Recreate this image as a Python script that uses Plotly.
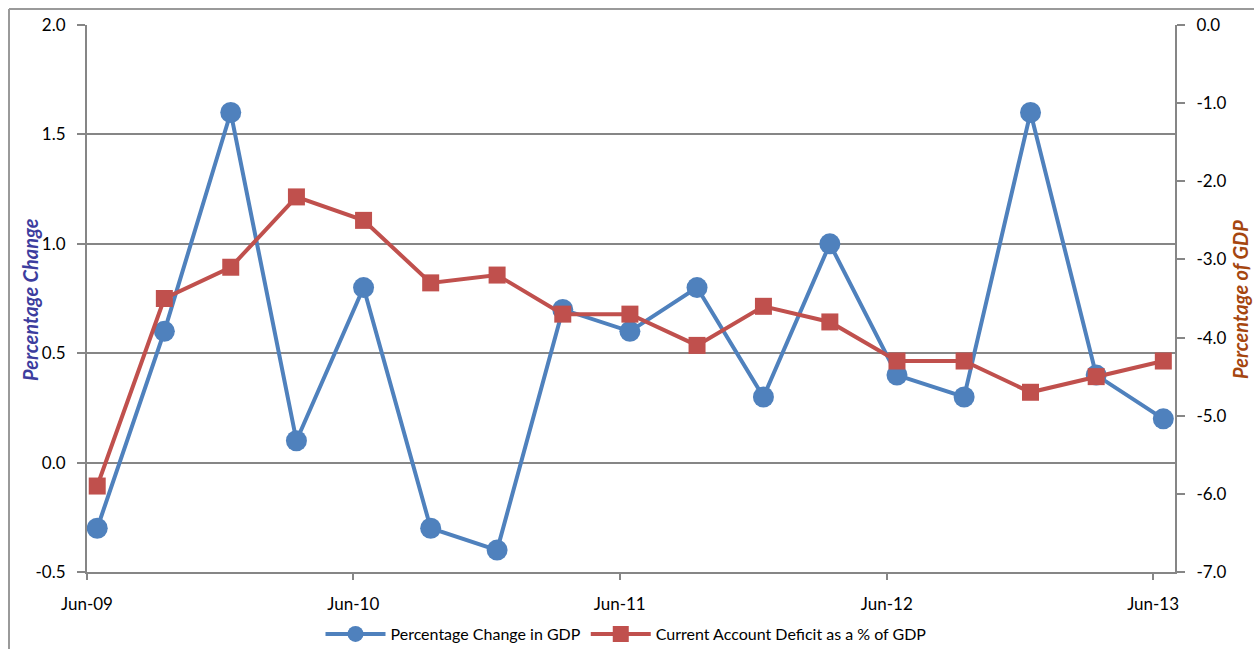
import plotly.graph_objects as go

dates = ["2009-06-15", "2009-09-15", "2009-12-15", "2010-03-15", "2010-06-15", "2010-09-15",
         "2010-12-15", "2011-03-15", "2011-06-15", "2011-09-15", "2011-12-15", "2012-03-15",
         "2012-06-15", "2012-09-15", "2012-12-15", "2013-03-15", "2013-06-15"]
gdp_change = [-0.3, 0.6, 1.6, 0.1, 0.8, -0.3, -0.4, 0.7, 0.6, 0.8, 0.3, 1.0, 0.4, 0.3, 1.6, 0.4, 0.2]
ca_deficit = [-5.9, -3.5, -3.1, -2.2, -2.5, -3.3, -3.2, -3.7, -3.7, -4.1, -3.6, -3.8, -4.3, -4.3, -4.7, -4.5, -4.3]

left_ticks = [-0.5, 0.0, 0.5, 1.0, 1.5, 2.0]
left_labels = ["-0.5", "0.0", "0.5", "1.0", "1.5", "2.0"]
right_ticks = [-7.0, -6.0, -5.0, -4.0, -3.0, -2.0, -1.0, 0.0]
right_labels = ["-7.0", "-6.0", "-5.0", "-4.0", "-3.0", "-2.0", "-1.0", "0.0"]

W, H = 1254, 649
L, R, T, B = 87, 1175, 25, 572
FONT = "Lato, Open Sans, sans-serif"
GRID = "#868686"

fig = go.Figure()
fig.add_trace(go.Scatter(
    x=dates, y=gdp_change, name="Percentage Change in GDP", mode="lines+markers",
    line=dict(color="#4f81bd", width=4),
    marker=dict(symbol="circle", size=21, color="#4f81bd"),
    yaxis="y"))
fig.add_trace(go.Scatter(
    x=dates, y=ca_deficit, name="Current Account Deficit as a % of GDP", mode="lines+markers",
    line=dict(color="#c0504d", width=4),
    marker=dict(symbol="square", size=17, color="#c0504d"),
    yaxis="y2"))

def px_x(p):
    return (p - L) / (R - L)

def px_y(p):
    return (B - p) / (B - T)

fig.update_layout(
    width=W, height=H,
    margin=dict(l=L, r=W - R, t=T, b=H - B, autoexpand=False),
    paper_bgcolor="white", plot_bgcolor="white",
    font=dict(family=FONT, size=15, color="#000000"),
    showlegend=True,
    legend=dict(orientation="h", x=px_x(626), y=px_y(634), xanchor="center", yanchor="middle",
                font=dict(size=16, family=FONT), traceorder="normal", itemwidth=60,
                bgcolor="rgba(0,0,0,0)"),
    xaxis=dict(
        type="date", range=["2009-06-01", "2013-07-01"],
        tick0="2009-06-01", dtick="M12", tickformat="%b-%y",
        showgrid=False, showline=True, linecolor=GRID, linewidth=2,
        ticks="outside", ticklen=6, tickcolor=GRID, tickwidth=2,
        tickfont=dict(size=17), zeroline=False, automargin=False, ticklabelstandoff=10),
    yaxis=dict(
        range=[-0.5, 2.0], tickvals=left_ticks, ticktext=left_labels,
        showgrid=True, gridcolor=GRID, gridwidth=1.5,
        showline=True, linecolor=GRID, linewidth=2,
        ticks="outside", ticklen=8, tickcolor=GRID, tickwidth=2,
        tickfont=dict(size=17), zeroline=False, automargin=False, ticklabelstandoff=8),
    yaxis2=dict(
        range=[-7.0, 0.0], tickvals=right_ticks, ticktext=right_labels, overlaying="y", side="right",
        showgrid=False, showline=True, linecolor=GRID, linewidth=2,
        ticks="outside", ticklen=8, tickcolor=GRID, tickwidth=2,
        tickfont=dict(size=17), zeroline=False, automargin=False, ticklabelstandoff=8),
    annotations=[
        dict(text="<b><i>Percentage Change</i></b>", xref="paper", yref="paper",
             x=px_x(30), y=px_y(300), xanchor="center", yanchor="middle", textangle=-90,
             showarrow=False, font=dict(size=20, color="#3d3d9e", family=FONT)),
        dict(text="<b><i>Percentage of GDP</i></b>", xref="paper", yref="paper",
             x=px_x(1240), y=px_y(300), xanchor="center", yanchor="middle", textangle=-90,
             showarrow=False, font=dict(size=20, color="#a5460f", family=FONT)),
    ],
    shapes=[
        dict(type="line", xref="paper", yref="paper", x0=px_x(9), x1=px_x(9), y0=px_y(9), y1=px_y(660),
             line=dict(color="#9a9a9a", width=2)),
        dict(type="line", xref="paper", yref="paper", x0=px_x(9), x1=px_x(1260), y0=px_y(9), y1=px_y(9),
             line=dict(color="#9a9a9a", width=2)),
    ],
)

fig.write_html("out.html")
